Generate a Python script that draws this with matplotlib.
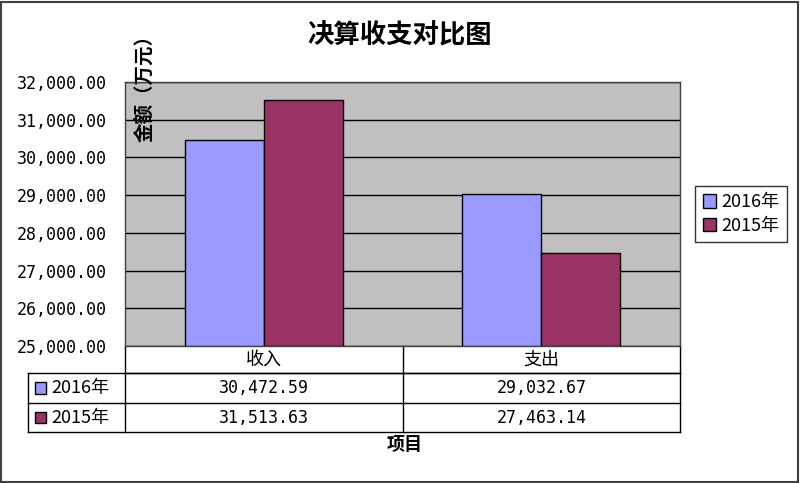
import numpy as np
import matplotlib.pyplot as plt
from matplotlib.patches import Rectangle

plt.rcParams['font.family'] = ['Noto Sans CJK SC', 'DejaVu Sans']

categories = ['收入', '支出']
series = ['2016年', '2015年']
v2016 = [30472.59, 29032.67]
v2015 = [31513.63, 27463.14]
colors = ['#9999FF', '#993366']
yticks = [25000, 26000, 27000, 28000, 29000, 30000, 31000, 32000]

W, H = 800, 483
fig = plt.figure(figsize=(W / 100, H / 100), dpi=100)
fig.patch.set_facecolor('white')

# outer border
fig.add_artist(Rectangle((1 / W, 1 / H), 1 - 3 / W, 1 - 3 / H, transform=fig.transFigure,
                         fill=False, edgecolor='#404040', lw=1.5))

x0, x1, ytop, ybot = 125, 680, 82, 346
ax = fig.add_axes([x0 / W, 1 - ybot / H, (x1 - x0) / W, (ybot - ytop) / H])
ax.set_facecolor('#C0C0C0')
ax.set_xlim(0, 2)
ax.set_ylim(25000, 32000)
ax.set_yticks(yticks)
ax.set_yticklabels([f'{t:,.2f}' for t in yticks], family=['DejaVu Sans Mono'], fontsize=12)
ax.tick_params(axis='y', length=0, pad=13)
ax.set_xticks([])
ax.yaxis.grid(True, color='black', lw=1)
ax.set_axisbelow(True)
for s in ax.spines.values():
    s.set_color('#404040')
    s.set_linewidth(1)

xc = np.arange(len(categories)) + 0.5
bw = 0.285
vals = [v2016, v2015]
for i, (vs, c) in enumerate(zip(vals, colors)):
    ax.bar(xc + (i - 1) * bw, np.array(vs) - 25000, bottom=25000, width=bw, align='edge',
           color=c, edgecolor='black', lw=1, zorder=3)

# data table below the axes
trans = ax.get_xaxis_transform()
rows_y = [0, -0.102, -0.216, -0.326]
left = -0.175
lk = dict(color='black', lw=1, clip_on=False, transform=ax.transAxes)
ax.plot([0, 0], [rows_y[0], rows_y[3]], **lk)
ax.plot([1, 1], [rows_y[0], rows_y[3]], **lk)
ax.plot([0.5, 0.5], [rows_y[0], rows_y[3]], **lk)
ax.plot([0, 1], [rows_y[1], rows_y[1]], **lk)
ax.plot([left, 1], [rows_y[1], rows_y[1]], **lk)
ax.plot([left, 1], [rows_y[2], rows_y[2]], **lk)
ax.plot([left, 1], [rows_y[3], rows_y[3]], **lk)
ax.plot([left, left], [rows_y[1], rows_y[3]], **lk)

for j, cat in enumerate(categories):
    ax.text(xc[j], (rows_y[0] + rows_y[1]) / 2, cat, transform=trans, ha='center', va='center',
            fontsize=13)
    for i in range(2):
        ax.text(xc[j], (rows_y[i + 1] + rows_y[i + 2]) / 2, f'{vals[i][j]:,.2f}', transform=trans,
                ha='center', va='center', fontsize=12, family=['DejaVu Sans Mono'])

for i, (name, c) in enumerate(zip(series, colors)):
    ym = (rows_y[i + 1] + rows_y[i + 2]) / 2
    ax.add_patch(Rectangle((left + 0.013, ym - 0.022), 0.019, 0.044, transform=ax.transAxes,
                           facecolor=c, edgecolor='black', lw=1, clip_on=False))
    ax.text(left + 0.042, ym, name, transform=ax.transAxes, ha='left', va='center', fontsize=13)

fig.text(405 / W, 1 - 445 / H, '项目', ha='center', va='center', fontsize=13, weight='bold')
fig.text(145 / W, 1 - 83 / H, '金额（万元）', ha='center', va='center', rotation=90,
         fontsize=14, weight='bold')
fig.text(400 / W, 1 - 36 / H, '决算收支对比图', ha='center', va='center', fontsize=19,
         weight='bold')

handles = [Rectangle((0, 0), 1, 1, facecolor=c, edgecolor='black') for c in colors]
leg = fig.legend(handles, series, loc='center', bbox_to_anchor=(741 / W, 1 - 214 / H),
                 fontsize=13, frameon=True, fancybox=False, handlelength=0.75, handleheight=0.75,
                 handletextpad=0.3, borderpad=0.4, labelspacing=0.3, borderaxespad=0)
leg.get_frame().set_edgecolor('black')
leg.get_frame().set_linewidth(1)

fig.savefig('out.png', dpi=100)
